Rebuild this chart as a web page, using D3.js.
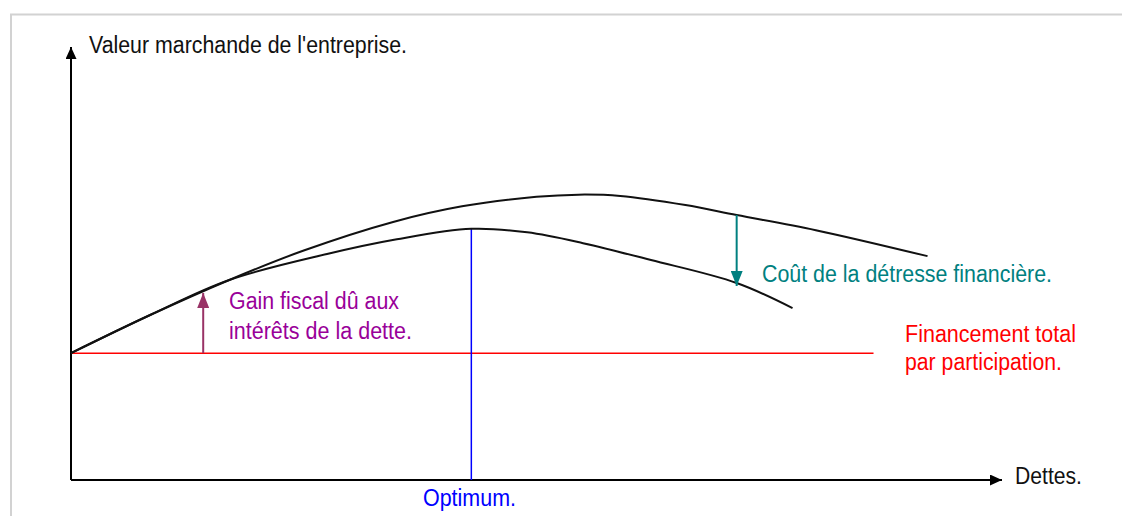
<!DOCTYPE html>
<html>
<head>
<meta charset="utf-8">
<script src="https://cdn.jsdelivr.net/npm/d3@7"></script>
<style>
  html, body { margin: 0; padding: 0; background: #fff; }
  svg { display: block; }
  text { font-family: "Liberation Sans", Arial, sans-serif; }
</style>
</head>
<body>
<div class="main"></div>
<script>
// debt level (x) vs market value of the firm (y), both in arbitrary units 0..100
let upperDebt = [0, 8.5, 17, 25, 34.6, 42, 50, 54.5, 59, 66, 71.5, 80, 92];
let upperValue = [29.3, 38.1, 46.2, 53, 59.6, 63.2, 65.4, 65.9, 65.6, 63.5, 61.2, 57.7, 51.7];
let lowerDebt = [0, 8.5, 17, 27.5, 35, 43, 49, 55, 62.3, 71.5, 77.5];
let lowerValue = [29.3, 38.1, 46.2, 52.2, 55.6, 58, 57.2, 54.7, 50.8, 45.5, 39.7];
let equityValue = 29.3;
let equityEnd = 86.2;
let optimumDebt = 43;
let taxArrowDebt = 14.2;
let taxArrowTop = 43.2;
let distressArrowDebt = 71.5;

let yTitle = "Valeur marchande de l'entreprise.";
let xTitle = 'Dettes.';
let optimumLabel = 'Optimum.';
let taxLabel = ['Gain fiscal dû aux', 'intérêts de la dette.'];
let distressLabel = 'Coût de la détresse financière.';
let equityLabel = ['Financement total', 'par participation.'];

let chart = {
  width: 1122,
  height: 516,
  left: 71,
  right: 1002,
  top: 47,
  bottom: 480
};

let svg = d3.select('.main').append('svg')
  .attr('width', chart.width)
  .attr('height', chart.height);

let x = d3.scaleLinear().domain([0, 100]).range([chart.left, chart.right]);
let y = d3.scaleLinear().domain([0, 100]).range([chart.bottom, chart.top]);

// frame
svg.append('path')
  .attr('d', `M11,${chart.height} L11,14.5 L${chart.width},14.5`)
  .attr('fill', 'none')
  .attr('stroke', '#d2d2d2')
  .attr('stroke-width', 2);

let defs = svg.append('defs');
function marker(id, color, w, h) {
  defs.append('marker')
    .attr('id', id)
    .attr('viewBox', `0 0 ${w} ${h}`)
    .attr('refX', w)
    .attr('refY', h / 2)
    .attr('markerWidth', w)
    .attr('markerHeight', h)
    .attr('markerUnits', 'userSpaceOnUse')
    .attr('orient', 'auto')
    .append('path')
    .attr('d', `M0,0 L${w},${h / 2} L0,${h} Z`)
    .attr('fill', color);
}
marker('axisHead', '#000', 12, 11);
marker('taxHead', '#993366', 15, 12);
marker('distressHead', '#008080', 15, 12);

// axes
svg.append('line')
  .attr('x1', x(0)).attr('y1', y(0))
  .attr('x2', x(0)).attr('y2', y(100))
  .attr('stroke', '#000').attr('stroke-width', 2)
  .attr('marker-end', 'url(#axisHead)');
svg.append('line')
  .attr('x1', x(0)).attr('y1', y(0))
  .attr('x2', x(100)).attr('y2', y(0))
  .attr('stroke', '#000').attr('stroke-width', 2)
  .attr('marker-end', 'url(#axisHead)');

// all-equity value
svg.append('line')
  .attr('x1', x(0)).attr('y1', y(equityValue))
  .attr('x2', x(equityEnd)).attr('y2', y(equityValue))
  .attr('stroke', '#ff0000').attr('stroke-width', 1.5);

// optimum
svg.append('line')
  .attr('x1', x(optimumDebt)).attr('y1', y(0))
  .attr('x2', x(optimumDebt)).attr('y2', y(lowerValue[lowerDebt.indexOf(optimumDebt)]))
  .attr('stroke', '#0000ff').attr('stroke-width', 1.5);

let line = d3.line()
  .x(d => x(d[0]))
  .y(d => y(d[1]))
  .curve(d3.curveCatmullRom.alpha(0.5));

svg.append('path')
  .datum(d3.zip(upperDebt, upperValue))
  .attr('d', line)
  .attr('fill', 'none')
  .attr('stroke', '#111')
  .attr('stroke-width', 2);
svg.append('path')
  .datum(d3.zip(lowerDebt, lowerValue))
  .attr('d', line)
  .attr('fill', 'none')
  .attr('stroke', '#111')
  .attr('stroke-width', 2);

// tax shield arrow
svg.append('line')
  .attr('x1', x(taxArrowDebt)).attr('y1', y(equityValue))
  .attr('x2', x(taxArrowDebt)).attr('y2', y(taxArrowTop))
  .attr('stroke', '#993366').attr('stroke-width', 2)
  .attr('marker-end', 'url(#taxHead)');

// distress cost arrow
let interp = (xs, ys, v) => {
  let i = d3.bisectLeft(xs, v);
  if (xs[i] === v) return ys[i];
  let t = (v - xs[i - 1]) / (xs[i] - xs[i - 1]);
  return ys[i - 1] + t * (ys[i] - ys[i - 1]);
};
svg.append('line')
  .attr('x1', x(distressArrowDebt)).attr('y1', y(interp(upperDebt, upperValue, distressArrowDebt)))
  .attr('x2', x(distressArrowDebt)).attr('y2', y(interp(lowerDebt, lowerValue, distressArrowDebt)) + 3)
  .attr('stroke', '#008080').attr('stroke-width', 2)
  .attr('marker-end', 'url(#distressHead)');

// labels
function label(str, px, py, len, color) {
  svg.append('text')
    .attr('x', px)
    .attr('y', py)
    .attr('font-size', 23)
    .attr('fill', color)
    .attr('textLength', len)
    .attr('lengthAdjust', 'spacingAndGlyphs')
    .text(str);
}
label(yTitle, 89, 53, 318, '#111');
label(xTitle, 1015, 484, 67, '#111');
label(optimumLabel, 423, 506, 93, '#0000ff');
label(taxLabel[0], 229, 309, 170, '#990099');
label(taxLabel[1], 229, 339, 183, '#990099');
label(distressLabel, 762, 282, 290, '#008080');
label(equityLabel[0], 905, 342, 171, '#ff0000');
label(equityLabel[1], 905, 370, 157, '#ff0000');
</script>
</body>
</html>
